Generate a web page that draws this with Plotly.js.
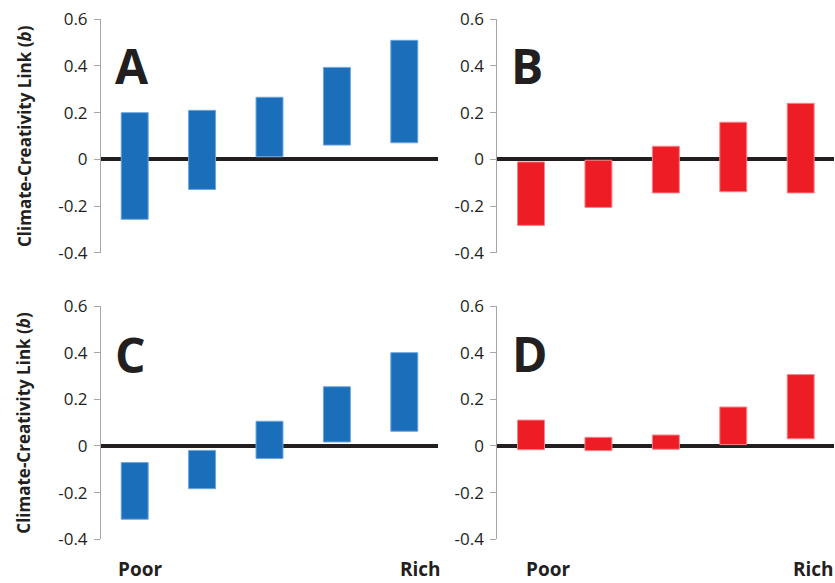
<!DOCTYPE html>
<html>
<head>
<meta charset="utf-8">
<script src="https://cdn.plot.ly/plotly-3.0.1.min.js"></script>
<style>html,body{margin:0;padding:0;background:#fff}#chart{width:835px;height:583px}</style>
</head>
<body>
<div id="chart"></div>
<script>
// Income groups (poor -> rich)
var groups = [0, 1, 2, 3, 4];
var tickVals = [-0.4, -0.2, 0, 0.2, 0.4, 0.6];
var tickText = ['-0.4', '-0.2', '0', '0.2', '0.4', '0.6'];

// Panel A (blue)
var aLow  = [-0.257, -0.129, 0.011, 0.061, 0.071];
var aHigh = [0.200, 0.210, 0.266, 0.394, 0.510];
// Panel B (red)
var bLow  = [-0.283, -0.206, -0.144, -0.139, -0.144];
var bHigh = [-0.011, -0.004, 0.056, 0.159, 0.240];
// Panel C (blue)
var cLow  = [-0.314, -0.183, -0.054, 0.017, 0.063];
var cHigh = [-0.071, -0.019, 0.106, 0.254, 0.400];
// Panel D (red)
var dLow  = [-0.016, -0.020, -0.014, 0.006, 0.031];
var dHigh = [0.111, 0.037, 0.047, 0.167, 0.306];

var BLUE = '#1b6fba', BLUE_EDGE = '#6fa6da';
var RED = '#ee1c25', RED_EDGE = '#f5868b';
var FONT = '"Open Sans", "Noto Sans", sans-serif';

function span(lo, hi) { return hi.map(function (h, i) { return h - lo[i]; }); }
function barTrace(lo, hi, color, edge, n) {
  return {
    type: 'bar', x: groups, y: span(lo, hi), base: lo, width: 0.4,
    marker: { color: color, line: { color: edge, width: 1 } },
    xaxis: 'x' + (n === 1 ? '' : n), yaxis: 'y' + (n === 1 ? '' : n),
    hoverinfo: 'skip', showlegend: false
  };
}

var data = [
  barTrace(aLow, aHigh, BLUE, BLUE_EDGE, 1),
  barTrace(bLow, bHigh, RED, RED_EDGE, 2),
  barTrace(cLow, cHigh, BLUE, BLUE_EDGE, 3),
  barTrace(dLow, dHigh, RED, RED_EDGE, 4)
];

function xax(dom, anchor) {
  return { domain: dom, anchor: anchor, range: [-0.5, 4.5], visible: false, fixedrange: true };
}
function yax(dom, anchor) {
  return {
    domain: dom, anchor: anchor, range: [-0.4, 0.6],
    tickvals: tickVals, ticktext: tickText,
    showgrid: false, showline: true, linecolor: '#a6a6a6', linewidth: 1,
    ticks: 'outside', ticklen: 6, tickcolor: '#a6a6a6', tickwidth: 1,
    zeroline: true, zerolinecolor: '#231f20', zerolinewidth: 4,
    tickfont: { family: FONT, size: 17, color: '#231f20' },
    ticklabelstandoff: 3, fixedrange: true
  };
}

var xL = [101 / 835, 438 / 835], xR = [497.3 / 835, 834.4 / 835];
var yT = [1 - 252.7 / 583, 1 - 19.3 / 583], yB = [1 - 539.3 / 583, 1 - 306 / 583];

function letter(t, x, y) {
  return { text: '<b>' + t + '</b>', x: x, y: y, xref: 'paper', yref: 'paper',
    xanchor: 'left', yanchor: 'middle', showarrow: false,
    font: { family: FONT, size: 48, color: '#231f20' } };
}
function label(t, x, anchor) {
  return { text: '<b>' + t + '</b>', x: x, y: 0, xref: 'paper', yref: 'paper',
    xanchor: anchor, yanchor: 'bottom', showarrow: false, borderpad: 0,
    font: { family: FONT, size: 19, color: '#231f20' } };
}
function ytitle(y) {
  return { text: '<b>Climate-Creativity Link (<i>b</i>)</b>', x: 24 / 835, y: y,
    xref: 'paper', yref: 'paper', xanchor: 'center', yanchor: 'middle',
    textangle: -90, showarrow: false,
    font: { family: FONT, size: 17, color: '#231f20' } };
}

var layout = {
  width: 835, height: 583,
  margin: { l: 0, r: 0, t: 0, b: 0 },
  paper_bgcolor: '#fff', plot_bgcolor: '#fff',
  bargap: 0,
  xaxis: xax(xL, 'y'), yaxis: yax(yT, 'x'),
  xaxis2: xax(xR, 'y2'), yaxis2: yax(yT, 'x2'),
  xaxis3: xax(xL, 'y3'), yaxis3: yax(yB, 'x3'),
  xaxis4: xax(xR, 'y4'), yaxis4: yax(yB, 'x4'),
  annotations: [
    letter('A', 113 / 835, 1 - 66 / 583),
    letter('B', 509 / 835, 1 - 66 / 583),
    letter('C', 113 / 835, 1 - 354 / 583),
    letter('D', 510 / 835, 1 - 353 / 583),
    label('Poor', 117 / 835, 'left'),
    label('Rich', 442 / 835, 'right'),
    label('Poor', 525 / 835, 'left'),
    label('Rich', 1, 'right'),
    ytitle(1 - 136 / 583),
    ytitle(1 - 422.7 / 583)
  ]
};

Plotly.newPlot('chart', data, layout, { staticPlot: true, displayModeBar: false });
</script>
</body>
</html>
